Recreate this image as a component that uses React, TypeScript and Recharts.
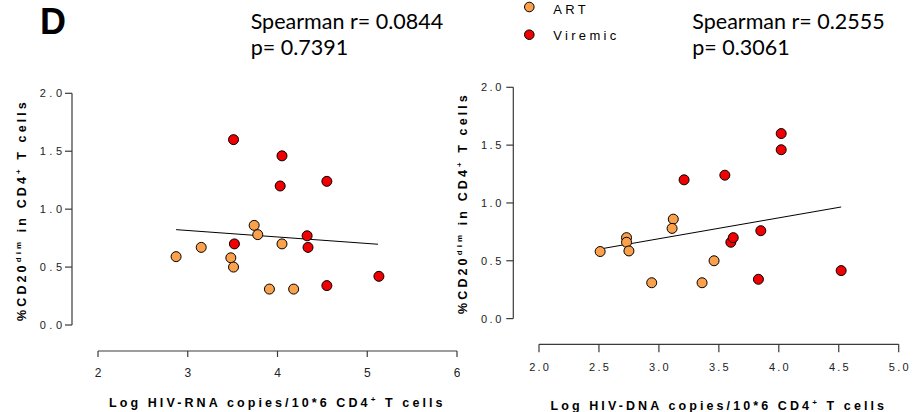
import React from "react";
import { ScatterChart, Scatter, XAxis, YAxis, ReferenceLine } from "recharts";

// Panel 1: HIV-RNA
const rnaArtX = [2.87, 3.15, 3.48, 3.51, 3.74, 3.78, 4.05, 3.91, 4.18];
const rnaArtY = [0.59, 0.67, 0.58, 0.5, 0.86, 0.78, 0.7, 0.31, 0.31];
const rnaVirX = [3.51, 4.05, 4.03, 4.55, 3.52, 4.33, 4.34, 4.55, 5.13];
const rnaVirY = [1.6, 1.46, 1.2, 1.24, 0.7, 0.77, 0.67, 0.34, 0.42];
const rnaFitX = [2.87, 5.12];
const rnaFitY = [0.823, 0.697];
const rnaXTicks = [2, 3, 4, 5, 6];

// Panel 2: HIV-DNA
const dnaArtX = [2.51, 2.73, 2.73, 2.75, 2.94, 3.12, 3.11, 3.46, 3.36];
const dnaArtY = [0.58, 0.7, 0.66, 0.585, 0.31, 0.86, 0.78, 0.5, 0.31];
const dnaVirX = [4.02, 4.02, 3.21, 3.55, 3.85, 3.6, 3.62, 3.83, 4.52];
const dnaVirY = [1.6, 1.46, 1.2, 1.24, 0.76, 0.66, 0.7, 0.34, 0.415];
const dnaFitX = [2.51, 4.52];
const dnaFitY = [0.602, 0.965];
const dnaXTicks = [2, 2.5, 3, 3.5, 4, 4.5, 5];

const yTicks = [0, 0.5, 1, 1.5, 2];

const rnaStats = ["Spearman r= 0.0844", "p= 0.7391"];
const dnaStats = ["Spearman r= 0.2555", "p= 0.3061"];
const seriesNames = ["ART", "Viremic"];

const ART_COLOR = "#FBA04B";
const VIR_COLOR = "#F00000";
const AXIS = "#3a3a3a";
const TICK_FONT = "'Liberation Sans', Arial, sans-serif";

const zip = (xs: number[], ys: number[]) => xs.map((x, i) => ({ x, y: ys[i] }));

const Dot = (color: string) => (p: any) =>
  p.cx == null ? null : (
    <circle cx={p.cx} cy={p.cy} r={5} fill={color} stroke="#000" strokeWidth={1} />
  );

const makeXTick = (ls: number, size: number, fmt: (v: number) => string) => (p: any) => (
  <text
    x={p.x}
    y={p.y}
    dy="0.71em"
    dx={ls / 2}
    textAnchor="middle"
    fontFamily={TICK_FONT}
    fontSize={size}
    fill="#222"
    style={{ letterSpacing: ls }}
  >
    {fmt(p.payload.value)}
  </text>
);

const makeYTick = (ls: number, size: number) => (p: any) => (
  <text
    x={p.x}
    y={p.y}
    dy="0.36em"
    dx={ls}
    textAnchor="end"
    fontFamily={TICK_FONT}
    fontSize={size}
    fill="#222"
    style={{ letterSpacing: ls }}
  >
    {Number(p.payload.value).toFixed(1)}
  </text>
);

type PanelProps = {
  left: number;
  width: number;
  top: number;
  plotLeft: number;
  plotRight: number;
  plotBottom: number;
  pad: number;
  xDomain: [number, number];
  xTicks: number[];
  xFmt: (v: number) => string;
  art: { x: number; y: number }[];
  vir: { x: number; y: number }[];
  fit: { x: number; y: number }[];
  xTickSize: number;
  xTickLs: number;
  xTickFont: number;
  yTickSize: number;
  yTickMargin: number;
  yTickLs: number;
};

const Panel = (o: PanelProps) => {
  const H = 412;
  const yAxisW = 40;
  const xAxisH = 30;
  const plotW = o.plotRight - o.plotLeft;
  const plotH = o.plotBottom - o.top;
  return (
    <div style={{ position: "absolute", left: o.left, top: 0, width: o.width, height: H }}>
      <ScatterChart
        width={o.width}
        height={H}
        margin={{
          top: o.top,
          right: o.width - o.plotRight,
          bottom: H - o.plotBottom - xAxisH,
          left: o.plotLeft - yAxisW,
        }}
      >
        <XAxis
          type="number"
          dataKey="x"
          domain={o.xDomain}
          ticks={o.xTicks}
          interval={0}
          height={xAxisH}
          padding={{ left: o.pad, right: 0 }}
          axisLine={{ stroke: AXIS, strokeWidth: 1.2, strokeDasharray: `0 ${o.pad} ${plotW - o.pad} 100` }}
          tickLine={{ stroke: AXIS, strokeWidth: 1.2 }}
          tickSize={o.xTickSize}
          tickMargin={11}
          tick={makeXTick(o.xTickLs, o.xTickFont, o.xFmt)}
        />
        <YAxis
          type="number"
          dataKey="y"
          domain={[0, 2]}
          ticks={yTicks}
          interval={0}
          width={yAxisW}
          padding={{ top: 0, bottom: o.pad }}
          axisLine={{ stroke: AXIS, strokeWidth: 1.2, strokeDasharray: `${plotH - o.pad} 100` }}
          tickLine={{ stroke: AXIS, strokeWidth: 1.2 }}
          tickSize={o.yTickSize}
          tickMargin={o.yTickMargin}
          tick={makeYTick(o.yTickLs, 11)}
        />
        <ReferenceLine segment={o.fit} stroke="#000" strokeWidth={1} ifOverflow="visible" />
        <Scatter name={seriesNames[0]} data={o.art} shape={Dot(ART_COLOR)} isAnimationActive={false} />
        <Scatter name={seriesNames[1]} data={o.vir} shape={Dot(VIR_COLOR)} isAnimationActive={false} />
      </ScatterChart>
    </div>
  );
};

const BOLD: React.CSSProperties = {
  fontFamily: TICK_FONT,
  fontWeight: "bold",
  fontSize: 12.5,
  fill: "#000",
};

const YTitle = ({ cx, cy, ls }: { cx: number; cy: number; ls: number }) => (
  <text
    transform={`translate(${cx},${cy}) rotate(-90)`}
    textAnchor="middle"
    style={{ ...BOLD, letterSpacing: ls }}
  >
    <tspan>%CD20</tspan>
    <tspan dy={-5} fontSize={8}>dim</tspan>
    <tspan dy={5}> in CD4</tspan>
    <tspan dy={-5} fontSize={8}>+</tspan>
    <tspan dy={5}> T cells</tspan>
  </text>
);

const XTitle = ({ cx, y, kind, ls }: { cx: number; y: number; kind: string; ls: number }) => (
  <text x={cx} y={y} textAnchor="middle" style={{ ...BOLD, letterSpacing: ls }}>
    <tspan>{`Log HIV-${kind} copies/10*6 CD4`}</tspan>
    <tspan dy={-5} fontSize={8}>+</tspan>
    <tspan dy={5}> T cells</tspan>
  </text>
);

export default function App() {
  const fmtInt = (v: number) => String(v);
  const fmt1 = (v: number) => v.toFixed(1);
  const statStyle: React.CSSProperties = { fontFamily: "Lato, 'Open Sans', sans-serif", fontSize: 21.5, fill: "#000" };
  return (
    <div style={{ position: "absolute", left: 0, top: 0, width: 923, height: 412, background: "#fff", overflow: "hidden" }}>
      <Panel
        left={0}
        width={460}
        top={93.3}
        plotLeft={72}
        plotRight={457}
        plotBottom={351}
        pad={26}
        xDomain={[2, 6]}
        xTicks={rnaXTicks}
        xFmt={fmtInt}
        art={zip(rnaArtX, rnaArtY)}
        vir={zip(rnaVirX, rnaVirY)}
        fit={zip(rnaFitX, rnaFitY)}
        xTickSize={6}
        xTickLs={0}
        xTickFont={12}
        yTickSize={7}
        yTickMargin={3}
        yTickLs={3.5}
      />
      <Panel
        left={460}
        width={463}
        top={87.3}
        plotLeft={53.3}
        plotRight={438.7}
        plotBottom={344.3}
        pad={25.7}
        xDomain={[2, 5]}
        xTicks={dnaXTicks}
        xFmt={fmt1}
        art={zip(dnaArtX, dnaArtY)}
        vir={zip(dnaVirX, dnaVirY)}
        fit={zip(dnaFitX, dnaFitY)}
        xTickSize={8}
        xTickLs={2.2}
        xTickFont={11}
        yTickSize={7}
        yTickMargin={5}
        yTickLs={2.5}
      />
      <svg
        width={923}
        height={412}
        style={{ position: "absolute", left: 0, top: 0, pointerEvents: "none" }}
      >
        <text x={40} y={34.3} style={{ fontFamily: TICK_FONT, fontWeight: "bold", fontSize: 36, fill: "#000" }}>
          D
        </text>
        <text x={250.7} y={29} style={statStyle}>{rnaStats[0]}</text>
        <text x={250.7} y={55} style={statStyle}>{rnaStats[1]}</text>
        <text x={692.3} y={29} style={statStyle}>{dnaStats[0]}</text>
        <text x={692.3} y={55} style={statStyle}>{dnaStats[1]}</text>

        <circle cx={529.3} cy={7} r={4.8} fill={ART_COLOR} stroke="#000" strokeWidth={1} />
        <circle cx={529.3} cy={34.7} r={4.8} fill={VIR_COLOR} stroke="#000" strokeWidth={1} />
        <text x={553.3} y={13.5} style={{ fontFamily: TICK_FONT, fontSize: 13, fill: "#000", letterSpacing: 3.3 }}>
          {seriesNames[0]}
        </text>
        <text x={553.3} y={39.5} style={{ fontFamily: TICK_FONT, fontSize: 13, fill: "#000", letterSpacing: 3.3 }}>
          {seriesNames[1]}
        </text>

        <YTitle cx={26} cy={210} ls={3.1} />
        <YTitle cx={467} cy={203} ls={3.1} />
        <XTitle cx={277.3} y={406.5} kind="RNA" ls={3.1} />
        <XTitle cx={718.8} y={410} kind="DNA" ls={3.1} />
      </svg>
    </div>
  );
}
